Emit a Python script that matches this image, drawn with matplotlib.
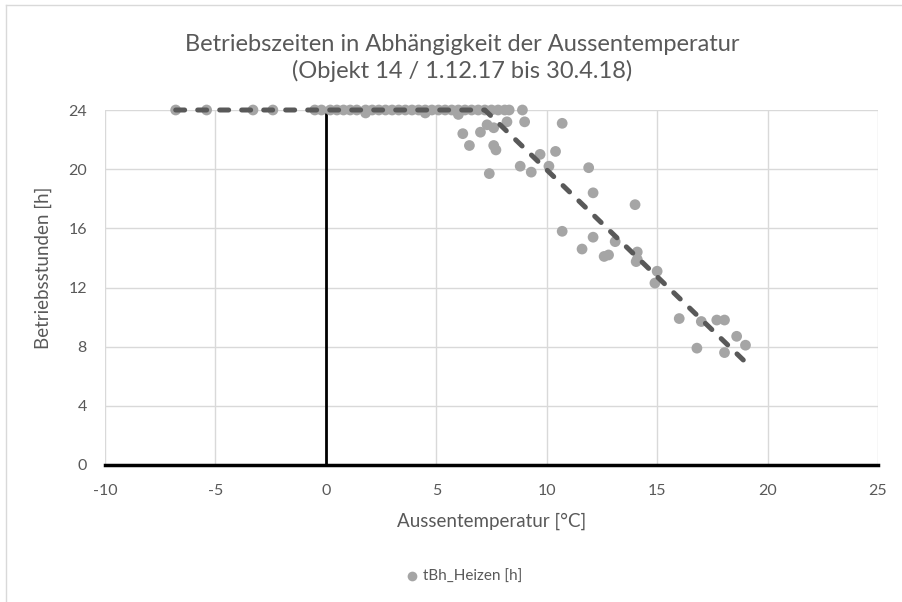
import matplotlib
matplotlib.use("Agg")
import matplotlib.pyplot as plt
from matplotlib.lines import Line2D

plt.rcParams['font.family'] = ['Lato', 'DejaVu Sans']

title = "Betriebszeiten in Abhängigkeit der Aussentemperatur\n(Objekt 14 / 1.12.17 bis 30.4.18)"
x_label = "Aussentemperatur [°C]"
y_label = "Betriebsstunden [h]"
series_name = "tBh_Heizen [h]"

x_ticks = [-10, -5, 0, 5, 10, 15, 20, 25]
y_ticks = [0, 4, 8, 12, 16, 20, 24]

# scatter data (outside temperature, operating hours)
temp = [-6.8, -5.4, -3.3, -2.4, -0.5, -0.2,
        0.2, 0.5, 0.8, 1.1, 1.4, 1.8, 2.1, 2.4, 2.7, 3.0, 3.3, 3.6, 3.9, 4.2,
        4.5, 4.8, 5.1, 5.4, 5.7, 6.0, 6.3, 6.6, 6.9, 7.2, 7.5, 7.8, 8.1, 8.3, 8.9,
        1.8, 4.5, 6.0,
        8.2, 9.0, 10.7, 6.2, 7.0, 7.3, 7.6, 6.5, 7.6, 7.7, 9.7, 10.4, 8.8, 9.3,
        10.1, 7.4, 11.9, 12.1, 14.0, 10.7, 12.1, 11.6, 12.6, 12.8, 13.1, 14.1,
        14.1, 14.05, 15.0, 14.9, 16.0, 17.0, 17.7, 18.05, 16.8, 18.05, 18.6, 19.0]
hours = [24, 24, 24, 24, 24, 24,
         24, 24, 24, 24, 24, 24, 24, 24, 24, 24, 24, 24, 24, 24,
         24, 24, 24, 24, 24, 24, 24, 24, 24, 24, 24, 24, 24, 24, 24,
         23.8, 23.8, 23.7,
         23.2, 23.2, 23.1, 22.4, 22.5, 23.0, 22.8, 21.6, 21.6, 21.3, 21.0, 21.2, 20.2, 19.8,
         20.2, 19.7, 20.1, 18.4, 17.6, 15.8, 15.4, 14.6, 14.1, 14.2, 15.1, 14.4,
         13.9, 13.75, 13.1, 12.3, 9.9, 9.7, 9.8, 9.8, 7.9, 7.6, 8.7, 8.1]

# trend line (piecewise): plateau then decline
trend_x = [-6.8, 7.2, 18.9]
trend_y = [24, 24, 7.1]

W, H = 902, 602
fig = plt.figure(figsize=(W / 100, H / 100), dpi=100)
ax = fig.add_axes([105 / W, 1 - 465 / H, (878 - 105) / W, (465 - 110) / H])

grid_c = '#d9d9d9'
text_c = '#595959'

ax.set_xlim(-10, 25)
ax.set_ylim(0, 24)
ax.set_xticks(x_ticks)
ax.set_yticks(y_ticks)
ax.set_xticklabels([str(v) for v in x_ticks])
ax.grid(True, color=grid_c, linewidth=1)
ax.set_axisbelow(True)
for s in ax.spines.values():
    s.set_visible(False)
ax.tick_params(length=0, labelsize=11.5, colors=text_c)
ax.tick_params(axis='y', pad=13)
ax.tick_params(axis='x', pad=14)

ax.axhline(0, color='black', linewidth=2.5, zorder=2, clip_on=False)
ax.plot([0, 0], [0, 24], color='black', linewidth=2, zorder=2)

ax.scatter(temp, hours, s=60, color='#a5a5a5', edgecolors='none', zorder=3, clip_on=False)
ax.plot(trend_x, trend_y, color='#595959', linewidth=3.6, linestyle=(0, (1.8, 2.6)),
        zorder=4, dash_capstyle='round', solid_capstyle='round', clip_on=False)

ax.set_xlabel(x_label, fontsize=13.5, color=text_c)
ax.set_ylabel(y_label, fontsize=13.5, color=text_c)
ax.xaxis.set_label_coords(0.5, -0.135)
ax.yaxis.set_label_coords(-0.068, 0.555)

fig.text(462 / W, 1 - 58 / H, title, ha='center', va='center',
         fontsize=17, color=text_c, linespacing=1.3)

# legend
fig.legend(handles=[Line2D([], [], marker='o', linestyle='none', color='#a5a5a5',
                           markersize=7, markeredgewidth=0)],
           labels=[series_name], loc='center', bbox_to_anchor=(463 / W, 1 - 577 / H),
           frameon=False, fontsize=11, labelcolor=text_c, handletextpad=0.2,
           handlelength=1)

# chart area border
fig.add_artist(Line2D([6 / W, 1], [1 - 5 / H, 1 - 5 / H], transform=fig.transFigure,
                      color='#d9d9d9', linewidth=1))
fig.add_artist(Line2D([6 / W, 6 / W], [0, 1 - 5 / H], transform=fig.transFigure,
                      color='#d9d9d9', linewidth=1))

fig.savefig('out.png', dpi=100, facecolor='white')
